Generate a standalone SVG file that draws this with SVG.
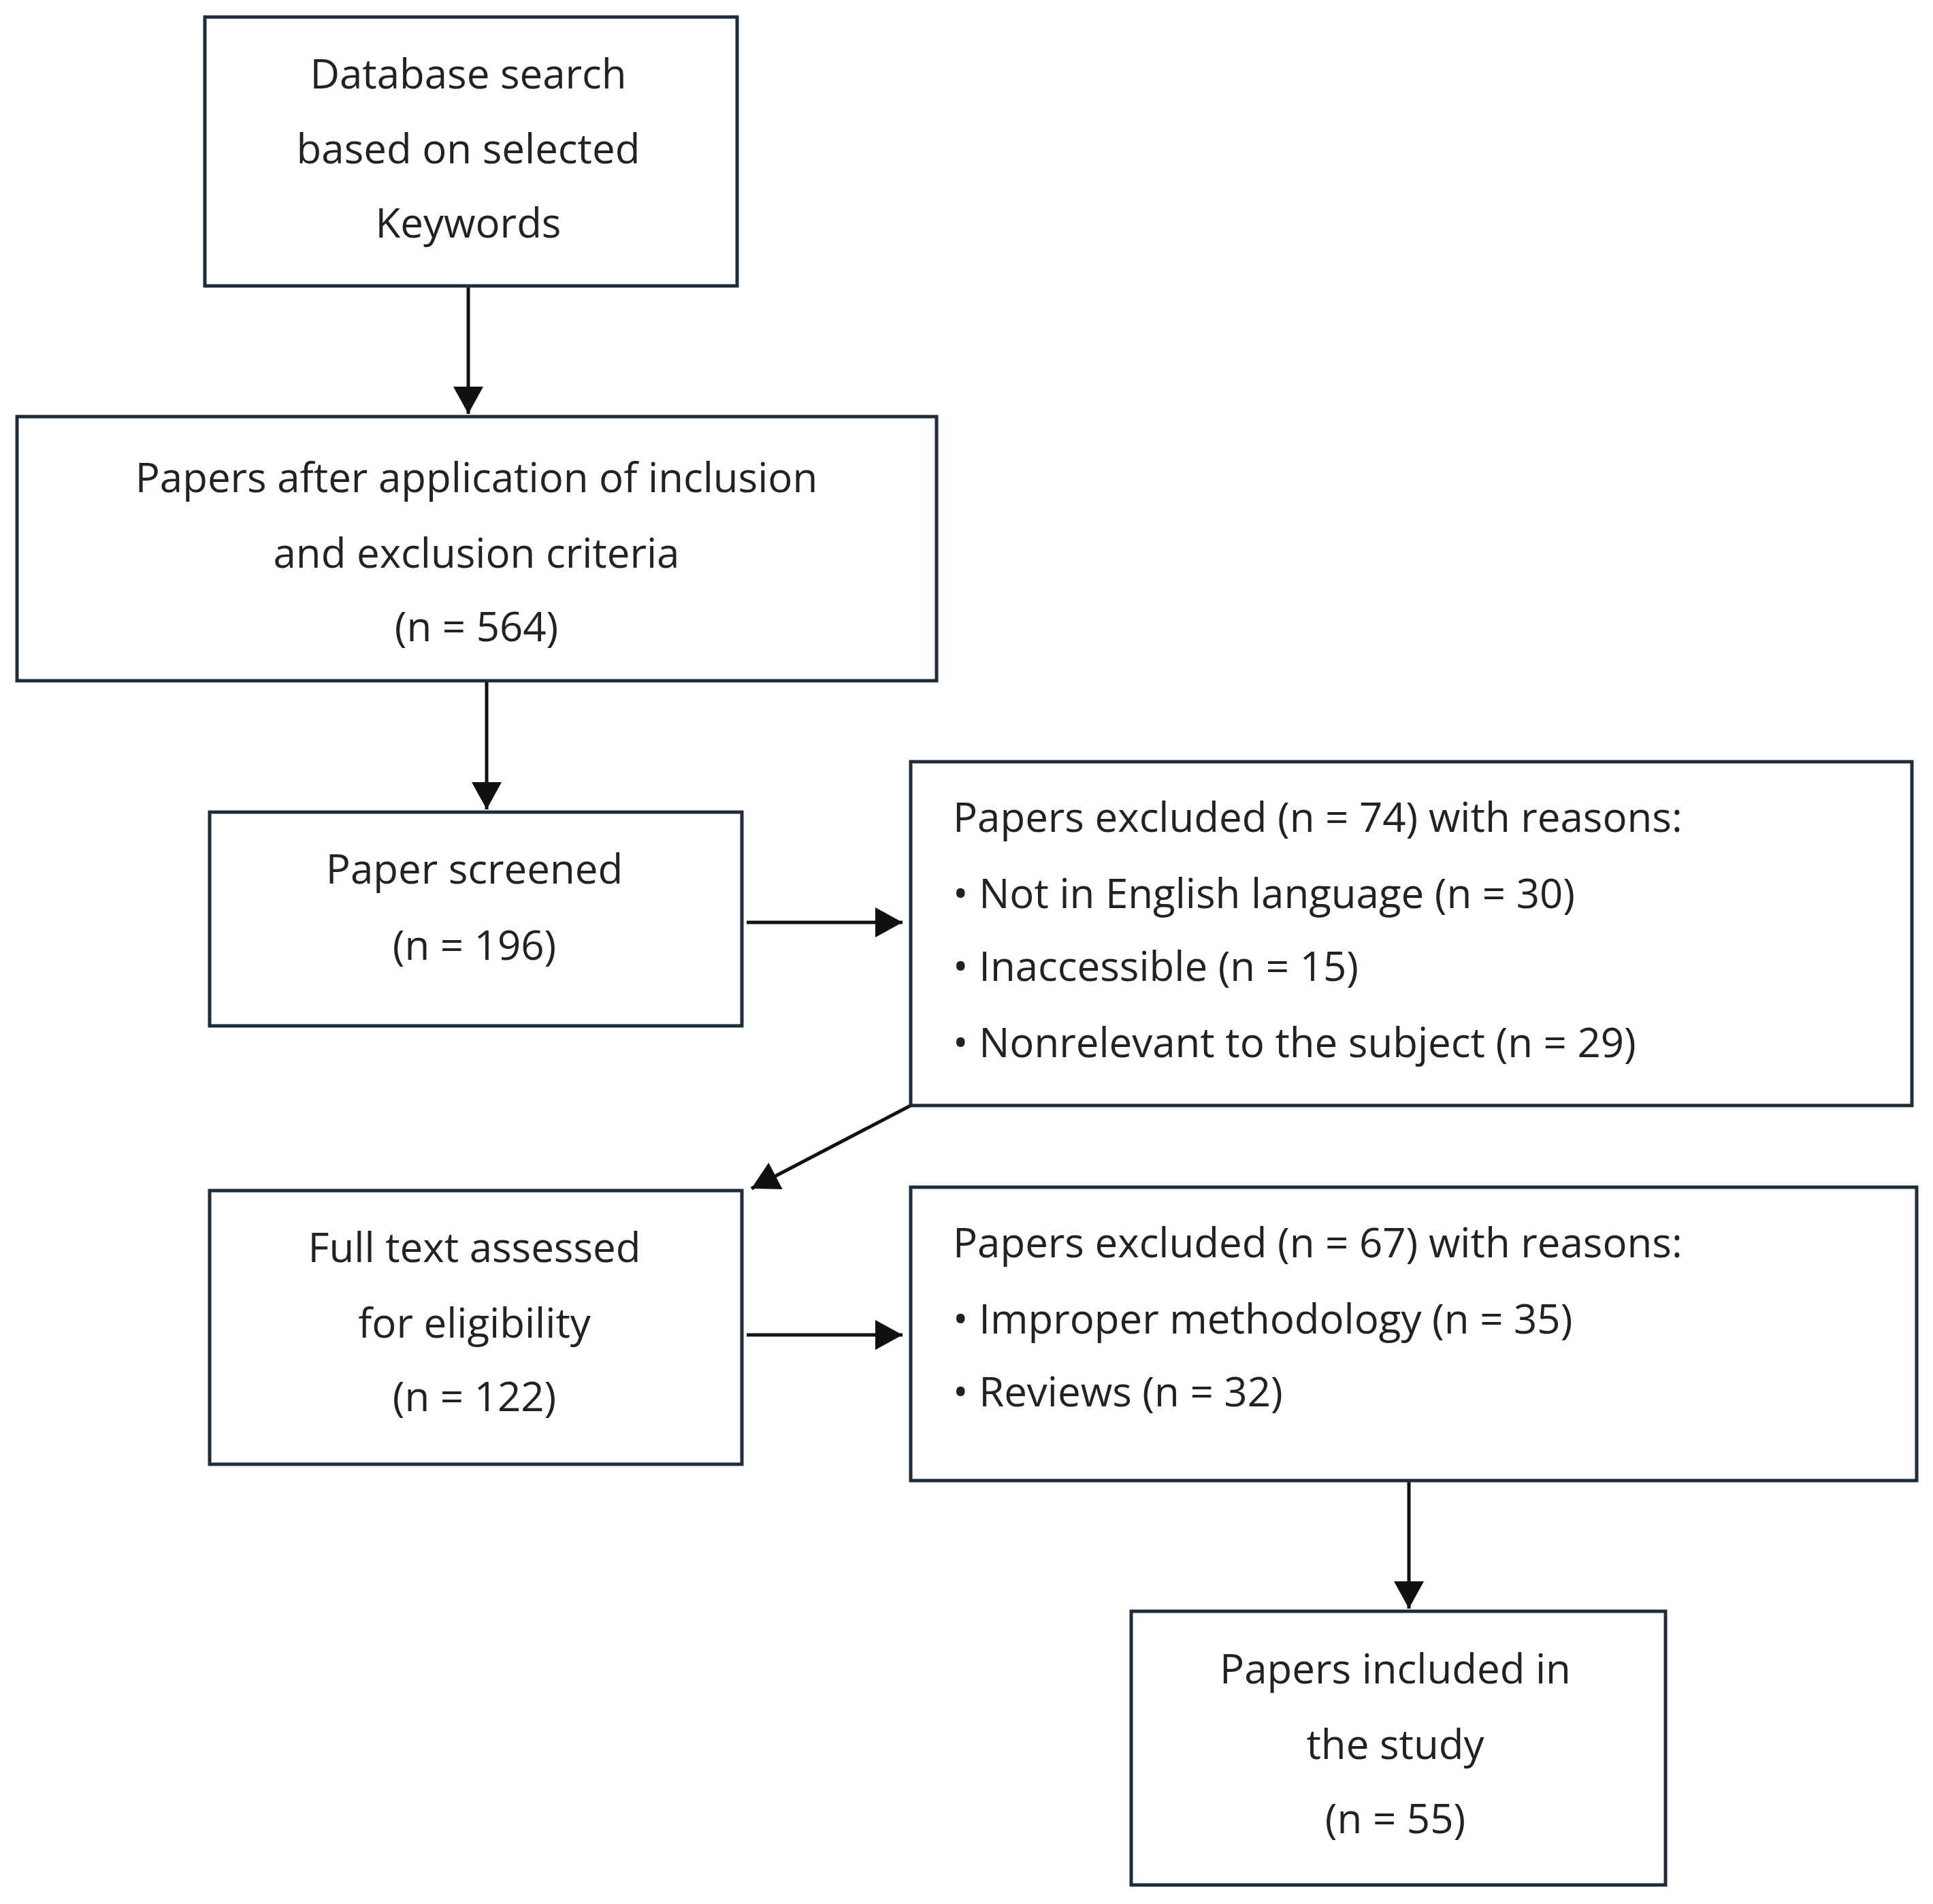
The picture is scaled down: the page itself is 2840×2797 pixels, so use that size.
<svg xmlns="http://www.w3.org/2000/svg" width="2840" height="2797" viewBox="0 0 2840 2797">
<style>
rect{fill:#fff;stroke:#1f2d3a;stroke-width:5}
text{font-family:"Open Sans","Liberation Sans",sans-serif;font-size:60px;fill:#222}
.c{text-anchor:middle}
line{stroke:#111;stroke-width:5}
</style>
<defs><marker id="a" markerWidth="10" markerHeight="10" refX="9" refY="5" orient="auto" markerUnits="userSpaceOnUse" viewBox="0 0 10 10" style="overflow:visible"><path d="M-40,-17 L0,5 L-40,27 Z" transform="translate(9,0)" fill="#111"/></marker></defs>
<rect width="2840" height="2797" fill="#fff" style="stroke:none"/>
<g id="connectors">
<line x1="688" y1="420" x2="688" y2="608" marker-end="url(#a)"/>
<line x1="715" y1="1000" x2="715" y2="1189" marker-end="url(#a)"/>
<line x1="1097" y1="1355" x2="1326" y2="1355" marker-end="url(#a)"/>
<line x1="1338" y1="1624" x2="1104" y2="1746" marker-end="url(#a)"/>
<line x1="1097" y1="1961" x2="1326" y2="1961" marker-end="url(#a)"/>
<line x1="2070" y1="2175" x2="2070" y2="2363" marker-end="url(#a)"/>
</g>
<g id="n1"><rect x="301" y="25" width="782" height="395"/>
<text class="c" x="688" y="130">Database search</text><text class="c" x="688" y="240">based on selected</text><text class="c" x="688" y="349">Keywords</text></g>
<g id="n2"><rect x="25" y="612" width="1351" height="388"/>
<text class="c" x="700" y="723">Papers after application of inclusion</text><text class="c" x="700" y="834">and exclusion criteria</text><text class="c" x="700" y="942">(n = 564)</text></g>
<g id="n3"><rect x="308" y="1193" width="782" height="314"/>
<text class="c" x="697" y="1298">Paper screened</text><text class="c" x="697" y="1410">(n = 196)</text></g>
<g id="n4"><rect x="1338" y="1119" width="1471" height="505"/>
<text x="1400" y="1222">Papers excluded (n = 74) with reasons:</text>
<text x="1400" y="1334">• Not in English language (n = 30)</text>
<text x="1400" y="1441">• Inaccessible (n = 15)</text>
<text x="1400" y="1553">• Nonrelevant to the subject (n = 29)</text></g>
<g id="n5"><rect x="308" y="1749" width="782" height="402"/>
<text class="c" x="697" y="1854">Full text assessed</text><text class="c" x="697" y="1965">for eligibility</text><text class="c" x="697" y="2073">(n = 122)</text></g>
<g id="n6"><rect x="1338" y="1744" width="1478" height="431"/>
<text x="1400" y="1847">Papers excluded (n = 67) with reasons:</text>
<text x="1400" y="1959">• Improper methodology (n = 35)</text>
<text x="1400" y="2066">• Reviews (n = 32)</text></g>
<g id="n7"><rect x="1662" y="2367" width="785" height="402"/>
<text class="c" x="2050" y="2473">Papers included in</text><text class="c" x="2050" y="2584">the study</text><text class="c" x="2050" y="2693">(n = 55)</text></g>
</svg>
